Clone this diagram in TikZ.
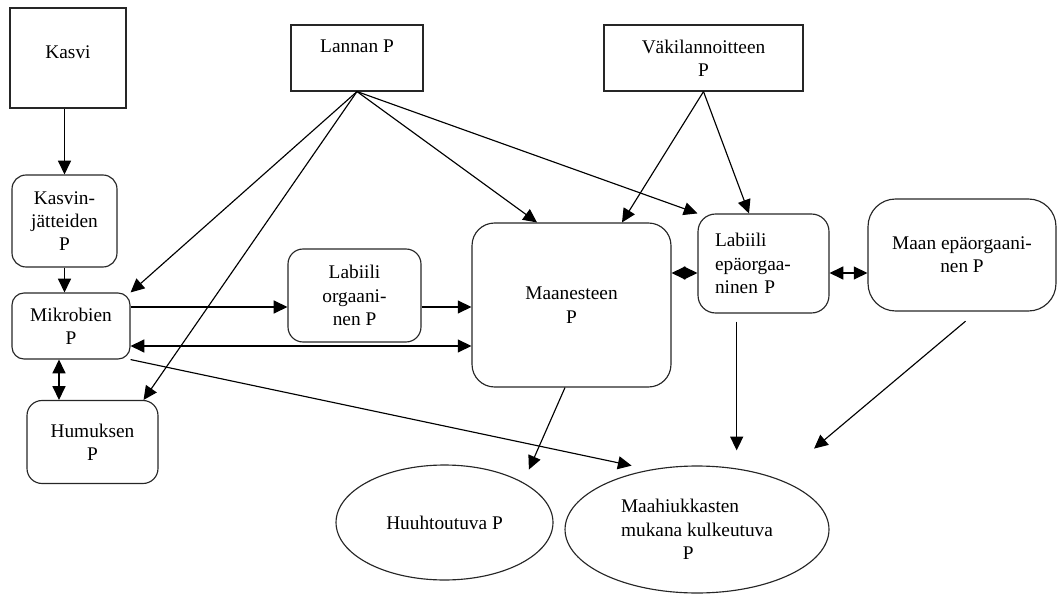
\documentclass[tikz,border=0pt]{standalone}
\usepackage{fontspec}
\setmainfont{Liberation Serif}
\usepackage{tikz}
\usetikzlibrary{arrows}
\usetikzlibrary{arrows.meta}
\usetikzlibrary{positioning}
\usetikzlibrary{shapes.geometric}

\begin{document}
\begin{tikzpicture}
    [x=0.02cm, y=-0.02cm, line width=0.65pt,
      % Lähteet (suorakaide)
      src/.style={rectangle, draw=black!85, align=center, inner sep=1pt},
      % Fosforivarastot (pyöristetty)
      pool/.style={rectangle, rounded corners=#1, draw=black!85, align=center, inner sep=1pt},
      pool/.default=0.3cm,
      % Häviöt (ellipsi)
      loss/.style={ellipse, draw=black!85, inner sep=0pt},
      >={Triangle[length=7.8pt,width=7.4pt]},
      font=\fontsize{11}{13.3}\selectfont]
    \useasboundingbox (0,0) rectangle (1057,594);
    % Solmut
    \node[src, minimum width=2.32cm, minimum height=2cm] (kasvi) at (68,58) {\raisebox{0.24cm}{Kasvi}};
    \node[src, minimum width=2.64cm, minimum height=1.32cm] (lannan) at (357,58) {Lannan P\\\mbox{}};
    \node[src, minimum width=3.98cm, minimum height=1.32cm] (vaki) at (703.5,58) {Väkilannoitteen\\P};
    \node[pool=0.28cm, minimum width=2.1cm, minimum height=1.84cm] (jatteet) at (64.5,221) {Kasvin-\\jätteiden\\P};
    \node[pool=0.24cm, minimum width=2.36cm, minimum height=1.32cm] (mikrobit) at (71,326) {Mikrobien\\P};
    \node[pool, minimum width=2.62cm, minimum height=1.66cm] (humus) at (92.5,442) {Humuksen\\P};
    \node[pool, minimum width=2.66cm, minimum height=1.86cm] (laborg) at (354.5,295.5) {Labiili\\orgaani-\\nen P};
    \node[pool=0.45cm, minimum width=3.98cm, minimum height=3.28cm] (maaneste) at (571.5,305) {Maanesteen\\P};
    \node[pool=0.35cm, minimum width=2.62cm, minimum height=1.98cm, align=left, text width=1.94cm] (labepa) at (763.5,263.5) {Labiili\\epäorgaa-\\ninen P};
    \node[pool=0.55cm, minimum width=3.76cm, minimum height=2.24cm] (maanepa) at (962,255) {Maan epäorgaani-\\nen P};
    \node[loss, minimum width=4.34cm, minimum height=2.3cm] (huuhto) at (444.5,522.5) {Huuhtoutuva P};
    \node[loss, minimum width=5.28cm, minimum height=2.54cm, align=left] (hiukkaset) at (697,529.5) {Maahiukkasten\\mukana kulkeutuva\\\hspace*{3.2em}P};

    % Nuolet
    \draw[->] (jatteet.north |- kasvi.south) -- (jatteet.north);
    \draw[->] (jatteet.south) -- (jatteet.south |- mikrobit.north);
    \path[->]
      (lannan.south) edge (mikrobit.north east)
      (lannan.south) edge ([xshift=-0.3cm]humus.north east)
      (lannan.south) edge ([xshift=-0.69cm]maaneste.north)
      (lannan.south) edge (labepa.north west)
      (vaki.south) edge ([xshift=1.01cm]maaneste.north)
      (vaki.south) edge ([xshift=-0.29cm]labepa.north);

    \coordinate (orgy) at ([yshift=-0.23cm]laborg.west);
    \draw[->] (orgy -| mikrobit.east) -- (orgy);
    \draw[->] ([yshift=-0.23cm]laborg.east) -- (orgy -| maaneste.west);
    \coordinate (vaihto) at ([yshift=-0.4cm]mikrobit.east);
    \draw[<->] (vaihto) -- (vaihto -| maaneste.west);
    \coordinate (humy) at ([xshift=-0.24cm]mikrobit.south);
    \draw[<->] (humy) -- (humy |- humus.north);
    \coordinate (epay) at ([yshift=-0.19cm]labepa.west);
    \draw[<->] (epay -| maaneste.east) -- (epay);
    \draw[<->] ([yshift=-0.19cm]labepa.east) -- (epay -| maanepa.west);

    % Häviöt
    \draw[->, shorten >=0.38cm] (mikrobit.south east) -- (hiukkaset.128);
    \draw[->, shorten >=0.28cm] ([xshift=-0.13cm]maaneste.south) -- (huuhto.27);
    \draw[->, shorten <=0.16cm, shorten >=0.36cm] (labepa.south -| hiukkaset.57) -- (hiukkaset.57);
    \draw[->, shorten <=0.3cm, shorten >=0.94cm] ([xshift=0.3cm]maanepa.south) -- (hiukkaset.32);
\end{tikzpicture}
\end{document}
